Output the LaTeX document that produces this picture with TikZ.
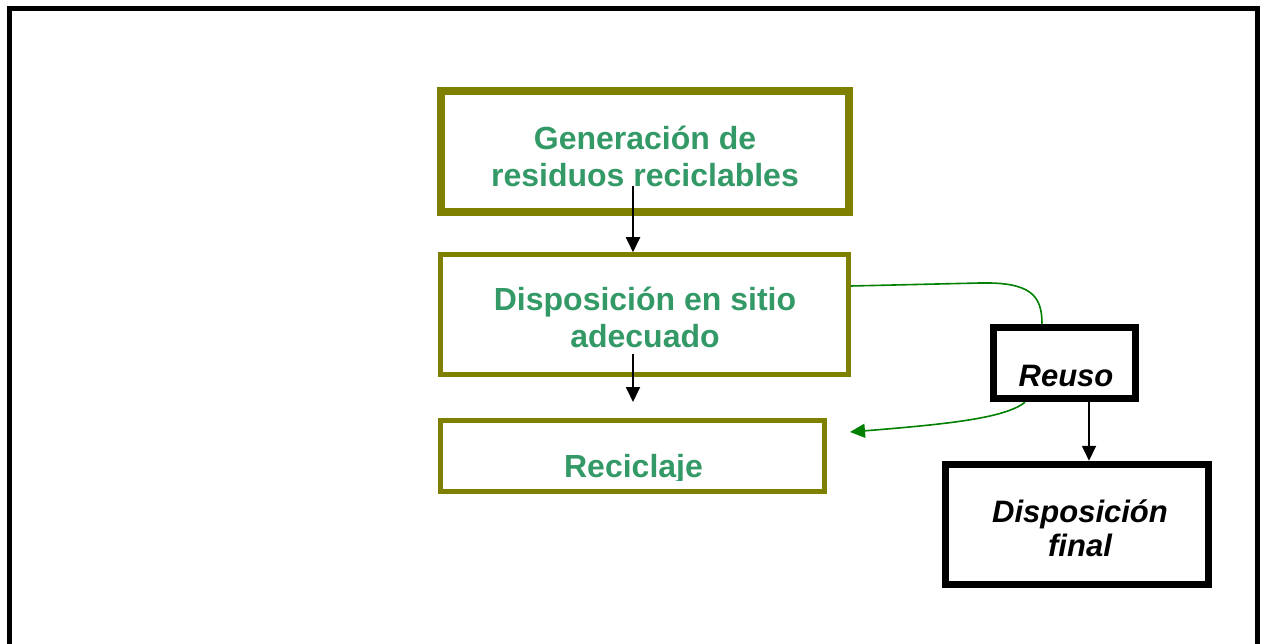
\documentclass[tikz,border=0pt]{standalone}
\usepackage{fontspec}
\setmainfont{Liberation Sans}
\usetikzlibrary{arrows.meta}
\definecolor{olivebox}{RGB}{128,128,0}
\definecolor{seagreen}{RGB}{51,153,102}
\definecolor{linkgreen}{RGB}{0,128,0}
\begin{document}
\begin{tikzpicture}[x=1pt,y=-1pt,
  obox/.style={draw=olivebox, rectangle, inner sep=0pt},
  kbox/.style={draw=black, rectangle, inner sep=0pt, line width=7pt},
  gtxt/.style={text=seagreen, font=\bfseries\fontsize{32}{37}\selectfont, anchor=base, inner sep=0pt},
  ktxt/.style={text=black, font=\bfseries\itshape\fontsize{31}{34}\selectfont, anchor=base, inner sep=0pt},
  arr/.style={draw=black, line width=1.8pt, -{Triangle[length=15pt,width=14pt]}},
  garr/.style={draw=linkgreen, line width=1.6pt},
  gtip/.style={-{Triangle[length=15pt,width=14pt,fill=linkgreen]}}]
\useasboundingbox (0,0) rectangle (1263,644);
% outer frame
\draw[line width=5pt] (9,650) -- (9,9) -- (1257,9) -- (1257,650);
% boxes
\node[obox, line width=8pt, minimum width=408pt, minimum height=121.5pt] (gen) at (645,151.75) {};
\node[obox, line width=4.5pt, minimum width=408pt, minimum height=120pt] (disp) at (644.5,314.5) {};
\node[obox, line width=4.5pt, minimum width=384pt, minimum height=71pt] (rec) at (632.5,456) {};
\node[kbox, minimum width=142.5pt, minimum height=71.5pt] (reuso) at (1064.5,363) {};
\node[kbox, minimum width=263.5pt, minimum height=120.5pt] (fin) at (1077,524.5) {};
% texts
\node[gtxt] (gent) at (645,150) {\begin{tabular}[t]{@{}c@{}}Generación de\\residuos reciclables\end{tabular}};
\node[gtxt] (dispt) at (645,310) {\begin{tabular}[t]{@{}c@{}}Disposición en sitio\\adecuado\end{tabular}};
\begin{scope}
  \clip (440,418) rectangle (826,480);
  \node[gtxt] (rect) at (633.5,477) {Reciclaje};
\end{scope}
\node[ktxt] (reusot) at (1066,386) {Reuso};
\node[ktxt] (fint) at (1080,522) {\begin{tabular}[t]{@{}c@{}}Disposición\\final\end{tabular}};
% black arrows
\coordinate (a1s) at (633,186);
\draw[arr] (a1s) -- (a1s |- disp.north);
\coordinate (a2s) at (633,354);
\coordinate (a2e) at (633,402);
\draw[arr] (a2s) -- (a2e);
\coordinate (a3s) at (1089,395);
\draw[arr] (a3s) -- (a3s |- fin.north);
% green connectors
\draw[garr] ([yshift=28.5pt]disp.east) -- (980,283) .. controls (1030,282) and (1042,295) .. ([xshift=-22.5pt]reuso.north);
\coordinate (g2e) at (850,432);
\draw[garr, gtip] ([xshift=-39.5pt]reuso.south) .. controls (1005,418) and (950,424) .. (g2e);
\end{tikzpicture}
\end{document}
